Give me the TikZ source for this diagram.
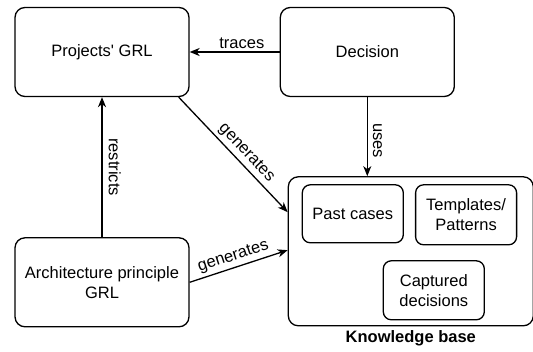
\documentclass[tikz,border=0pt]{standalone}
\usepackage{fontspec}
\setmainfont{Liberation Sans}
\usetikzlibrary{positioning,arrows.meta}
\tikzset{
  box/.style={
    draw, rounded corners=10pt, align=center, inner sep=3pt,
    font=\fontsize{16.5}{20}\selectfont, line width=1.3pt,
    minimum width=174pt, minimum height=89pt,
  },
  part/.style={box, rounded corners=8pt, minimum width=101pt, minimum height=58pt},
  flow/.style={-{Stealth[length=10pt, width=8pt, inset=3pt]}, line width=1.3pt},
  lbl/.style={font=\fontsize{16.5}{20}\selectfont, inner sep=3pt},
}
\begin{document}
\begin{tikzpicture}[x=1pt, y=-1pt]
\useasboundingbox (0,0) rectangle (533,352);

% ---------------------------------------------------------------- goal models
\node[box] (proj) at (102,52) {Projects\textquotesingle\ GRL};
\node[box, right=90pt of proj] (dec) {Decision};
\node[box, below=140pt of proj] (arch) {Architecture principle\\GRL};

% ---------------------------------------------------------------- knowledge base
\node[box, minimum width=245pt, minimum height=149pt,
      below=79pt of dec.south west, anchor=north west, xshift=8pt] (kb) {};
\node[part, below right=8pt and 14pt of kb.north west] (past) {Past cases};
\node[part, minimum height=60pt, right=11pt of past.north east, anchor=north west] (tmpl)
  {Templates/\\Patterns};
\node[part, minimum height=59pt, above left=6pt and 49pt of kb.south east] (capt)
  {Captured\\decisions};
\node[lbl, font=\fontsize{16.5}{20}\selectfont\bfseries, below=1pt of kb] (kblbl) {Knowledge base};

% ---------------------------------------------------------------- edges
\draw[flow] (dec) -- node[lbl, above, pos=0.42] {traces} (proj);
\draw[flow] (dec.south) -- node[lbl, sloped, above, pos=0.55, inner sep=5pt] {uses}
  (dec.south |- kb.north);
\draw[flow] (arch) -- node[lbl, rotate=-90, anchor=south, pos=0.5, inner sep=6pt] {restricts} (proj);
\draw[flow] ([xshift=-11pt]proj.south east) -- node[lbl, sloped, above, pos=0.55] {generates}
  ([yshift=-36pt]kb.north west);
\draw[flow] (arch.east) -- node[lbl, sloped, above, pos=0.48] {generates}
  ([yshift=-74pt]kb.north west);

\end{tikzpicture}
\end{document}
